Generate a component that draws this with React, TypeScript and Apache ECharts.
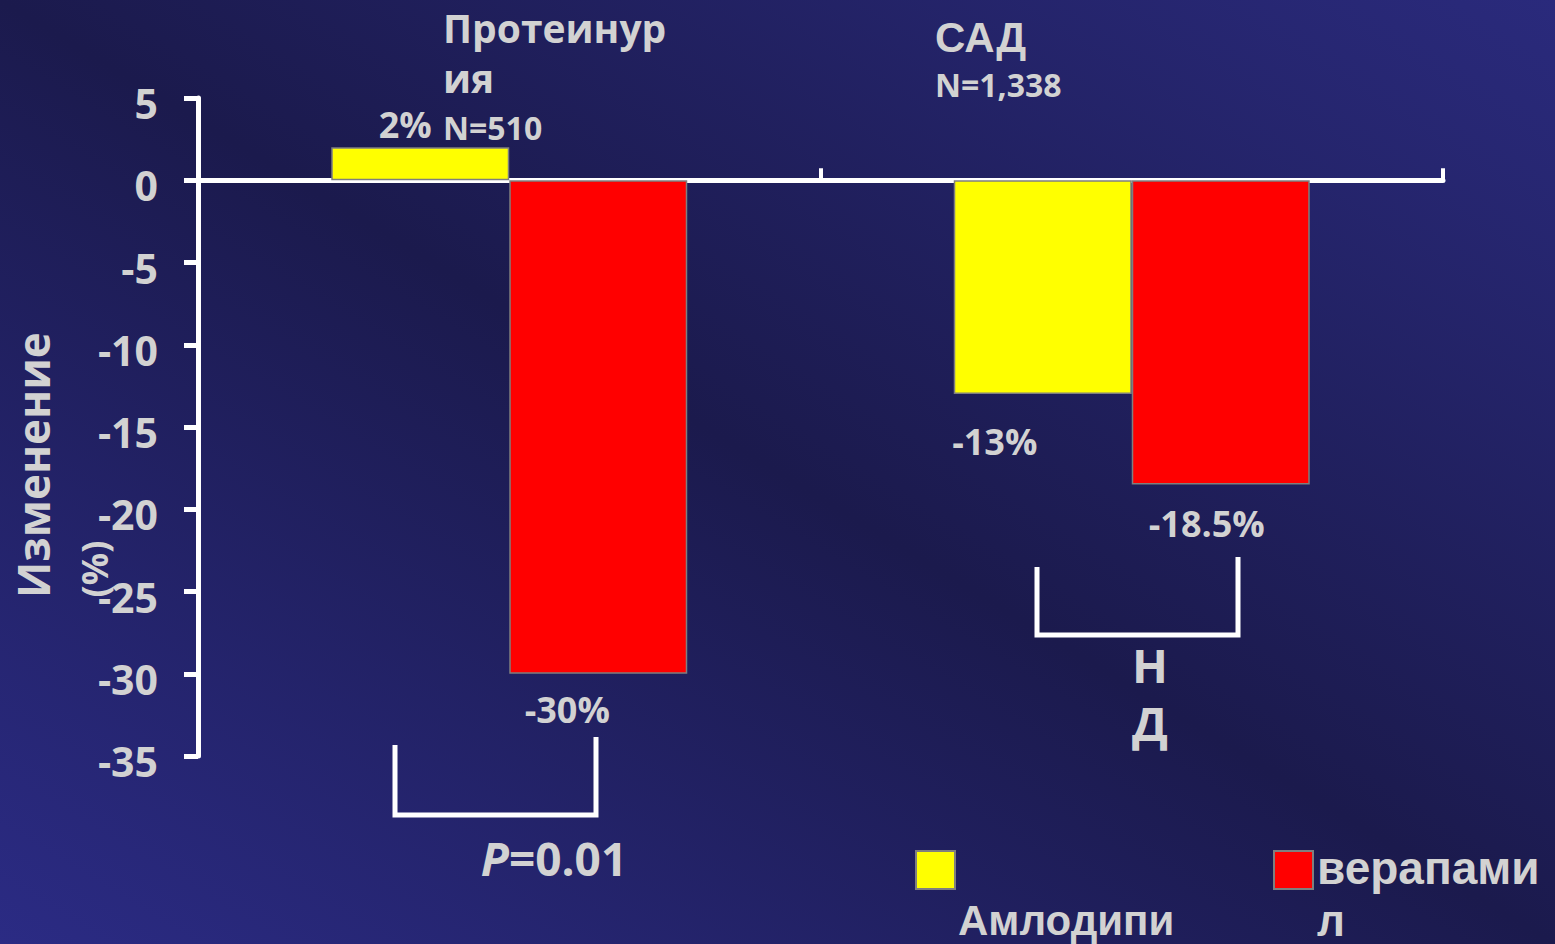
import React, { useEffect, useRef } from "react";
import * as echarts from "echarts";

const categories = ["Протеинурия", "САД"];
const amlodipine = [2, -13];
const verapamil = [-30, -18.5];
const yTicks = { min: -35, max: 5, interval: 5 };
const seriesNames = ["Амлодипин", "верапамил"];

const LABEL_COLOR = "#d2d2d2";
const OPEN = '"Open Sans", "DejaVu Sans", sans-serif';
const ARIAL = '"Liberation Sans", Arial, sans-serif';

const amlOffsets: [number, number][] = [[-15, 0], [-48, 24]];
const verOffsets: [number, number][] = [[-31, 13], [-14, 16]];

function txt(x: number, y: number, text: string, font: string, extra: any = {}) {
  return {
    type: "text",
    x,
    y,
    silent: true,
    ...extra,
    style: {
      text,
      font,
      fill: LABEL_COLOR,
      align: extra.align || "left",
      textAlign: extra.align || "left",
      verticalAlign: "middle",
      textVerticalAlign: "middle",
      lineHeight: extra.lineHeight,
      rich: extra.rich,
    },
  };
}

export default function App() {
  const ref = useRef<HTMLDivElement>(null);
  useEffect(() => {
    document.body.style.margin = "0";
    const chart = echarts.init(ref.current!, undefined, { renderer: "svg" });
    const labelStyle = {
      show: true,
      position: "outside",
      color: LABEL_COLOR,
      fontFamily: OPEN,
      fontWeight: "bold",
      fontSize: 36,
      formatter: (p: any) => `${p.value}%`,
    };
    const mk = (vals: number[], offs: [number, number][]) =>
      vals.map((v, i) => ({ value: v, label: { ...labelStyle, offset: offs[i] } }));
    chart.setOption({
      animation: false,
      grid: { left: 198, right: 112, top: 98, bottom: 188, containLabel: false },
      xAxis: {
        type: "category",
        data: categories,
        axisLine: { onZero: true, lineStyle: { color: "#ffffff", width: 5 } },
        axisTick: { show: true, inside: true, length: 12, lineStyle: { color: "#ffffff", width: 4 } },
        axisLabel: { show: false },
        splitLine: { show: false },
      },
      yAxis: {
        type: "value",
        min: yTicks.min,
        max: yTicks.max,
        interval: yTicks.interval,
        axisLine: { show: true, onZero: false, lineStyle: { color: "#ffffff", width: 5 } },
        axisTick: { show: true, length: 14, lineStyle: { color: "#ffffff", width: 5 } },
        axisLabel: {
          color: LABEL_COLOR,
          fontFamily: OPEN,
          fontWeight: "bold",
          fontSize: 41,
          margin: 40,
          verticalAlign: "top",
          lineHeight: 10,
        },
        splitLine: { show: false },
      },
      series: [
        {
          name: seriesNames[0],
          type: "bar",
          data: mk(amlodipine, amlOffsets),
          barWidth: 178,
          barGap: "0%",
          itemStyle: { color: "#ffff00", borderColor: "#7f7f7f", borderWidth: 1.5 },
        },
        {
          name: seriesNames[1],
          type: "bar",
          data: mk(verapamil, verOffsets),
          barWidth: 178,
          barGap: "0%",
          itemStyle: { color: "#ff0000", borderColor: "#7f7f7f", borderWidth: 1.5 },
        },
      ],
      graphic: [
        {
          type: "rect",
          z: -100,
          silent: true,
          shape: { x: 0, y: 0, width: 1555, height: 944 },
          style: {
            fill: new echarts.graphic.LinearGradient(0, 1, 1, 0, [
              { offset: 0, color: "#2b2b84" },
              { offset: 0.5, color: "#1b1a4d" },
              { offset: 1, color: "#2a2a7c" },
            ]),
          },
        },
        txt(443, 52, "Протеинур\nия", `bold 39px ${OPEN}`, { lineHeight: 50 }),
        txt(443, 127, "N=510", `bold 32px ${OPEN}`),
        txt(935, 37, "САД", `bold 42px ${ARIAL}`),
        txt(935, 84, "N=1,338", `bold 32px ${OPEN}`),
        txt(33, 465, "Изменение", `bold 44px ${OPEN}`, { align: "center", rotation: Math.PI / 2 }),
        txt(94, 569, "(%)", `bold 36px ${OPEN}`, { align: "center", rotation: Math.PI / 2 }),
        {
          type: "polyline",
          silent: true,
          shape: { points: [[395, 745], [395, 815], [596, 815], [596, 737]] },
          style: { stroke: "#ffffff", lineWidth: 5, fill: null },
        },
        {
          type: "polyline",
          silent: true,
          shape: { points: [[1037, 567], [1037, 635], [1238, 635], [1238, 557]] },
          style: { stroke: "#ffffff", lineWidth: 5, fill: null },
        },
        txt(554, 858, "{i|P}{n|=0.01}", `bold 46px ${OPEN}`, {
          align: "center",
          rich: {
            i: { fontStyle: "italic", fontWeight: "bold", fontSize: 46, fontFamily: OPEN, fill: LABEL_COLOR, color: LABEL_COLOR },
            n: { fontWeight: "bold", fontSize: 46, fontFamily: OPEN, fill: LABEL_COLOR, color: LABEL_COLOR },
          },
        }),
        txt(1150, 694, "Н\nД", `bold 47px ${OPEN}`, { align: "center", lineHeight: 58 }),
        {
          type: "rect",
          silent: true,
          shape: { x: 916, y: 851, width: 39, height: 38 },
          style: { fill: "#ffff00", stroke: "#7f7f7f", lineWidth: 2 },
        },
        {
          type: "rect",
          silent: true,
          shape: { x: 1274, y: 851, width: 39, height: 38 },
          style: { fill: "#ff0000", stroke: "#7f7f7f", lineWidth: 2 },
        },
        txt(958, 920, "Амлодипи", `bold 42px ${ARIAL}`),
        txt(1317, 868, "верапами", `bold 46px ${ARIAL}`),
        txt(1317, 920, "л", `bold 44px ${ARIAL}`),
      ],
    });
    return () => chart.dispose();
  }, []);
  return (
    <div
      ref={ref}
      style={{ position: "absolute", left: 0, top: 0, width: 1555, height: 944 }}
    />
  );
}
